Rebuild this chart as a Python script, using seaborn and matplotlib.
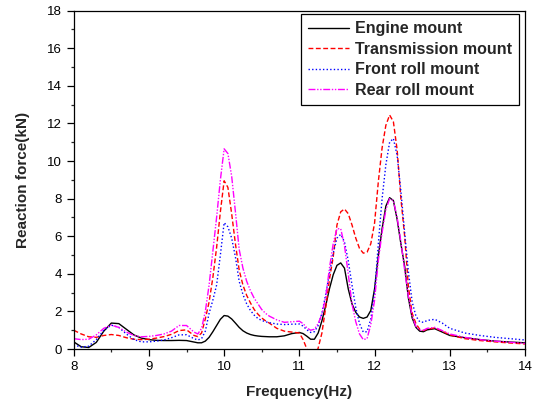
import numpy as np
import pandas as pd
import matplotlib
matplotlib.use("Agg")
import matplotlib.pyplot as plt
from matplotlib.ticker import MultipleLocator
import seaborn as sns

# ---------------- data ----------------
freq = [8.0, 8.1, 8.2, 8.3, 8.4, 8.5, 8.6, 8.7, 8.8, 8.9, 9.0, 9.1, 9.2, 9.3, 9.4, 9.5, 9.6,
        9.65, 9.7, 9.75, 9.8, 9.85, 9.9, 9.95, 10.0, 10.05, 10.1, 10.15, 10.2, 10.25, 10.3,
        10.35, 10.4, 10.45, 10.5, 10.55, 10.6,
        10.7, 10.8, 10.9, 11.0, 11.05,
        11.1, 11.15, 11.2, 11.25, 11.3, 11.35, 11.4, 11.45, 11.5, 11.55, 11.6, 11.65, 11.7,
        11.75, 11.8, 11.85, 11.9, 11.95, 12.0, 12.05, 12.1, 12.15, 12.2, 12.25, 12.3, 12.35,
        12.4, 12.45, 12.5, 12.55, 12.6, 12.65, 12.7,
        12.8, 12.9, 13.0, 13.2, 13.4, 13.6, 13.8, 14.0]

engine = [0.38, 0.12, 0.08, 0.35, 0.95, 1.38, 1.35, 1.05, 0.75, 0.58, 0.50, 0.46, 0.45, 0.45, 0.46, 0.45, 0.37,
          0.33, 0.33, 0.42, 0.62, 0.92, 1.25, 1.58, 1.78, 1.75, 1.60, 1.38, 1.15, 0.97, 0.85,
          0.77, 0.72, 0.69, 0.67, 0.66, 0.65,
          0.65, 0.70, 0.82, 0.88, 0.82,
          0.68, 0.52, 0.52, 0.85, 1.50, 2.30, 3.20, 3.95, 4.45, 4.58, 4.30, 3.20, 2.40,
          1.95, 1.70, 1.63, 1.70, 2.05, 3.20, 4.95, 6.40, 7.60, 8.05, 7.90, 6.90, 5.60,
          4.40, 2.70, 1.65, 1.15, 0.95, 0.92, 1.02,
          1.08, 0.90, 0.72, 0.60, 0.50, 0.42, 0.37, 0.33]

transmission = [1.00, 0.80, 0.65, 0.62, 0.72, 0.77, 0.72, 0.60, 0.52, 0.50, 0.52, 0.58, 0.66, 0.78, 0.98, 1.02, 0.72,
                0.66, 0.85, 1.60, 2.50, 3.80, 5.40, 7.30, 8.95, 8.60, 7.20, 5.60, 4.20, 3.40, 2.85,
                2.45, 2.10, 1.85, 1.65, 1.50, 1.38,
                1.10, 0.95, 0.90, 0.85, 0.50,
                0.00, -0.45, -0.55, 0.05, 0.85, 2.20, 3.70, 4.90, 6.60, 7.30, 7.45, 7.20, 6.60,
                5.90, 5.35, 5.10, 5.15, 5.60, 6.70, 8.90, 10.70, 11.90, 12.45, 12.10, 10.60, 8.00,
                6.00, 3.30, 1.90, 1.35, 1.05, 0.98, 1.05,
                1.12, 0.95, 0.75, 0.55, 0.45, 0.38, 0.32, 0.27]

front_roll = [0.22, 0.10, 0.15, 0.50, 1.00, 1.27, 1.15, 0.80, 0.50, 0.38, 0.38, 0.42, 0.48, 0.60, 0.75, 0.76, 0.55,
              0.48, 0.55, 0.95, 1.90, 2.60, 3.40, 5.00, 6.72, 6.50, 5.90, 4.90, 3.60, 2.90, 2.40,
              2.05, 1.80, 1.62, 1.52, 1.45, 1.40,
              1.33, 1.30, 1.32, 1.33, 1.22,
              1.02, 0.88, 0.92, 1.25, 1.90, 2.90, 4.00, 5.10, 5.90, 6.10, 5.70, 4.70, 3.40,
              2.20, 1.35, 0.90, 0.92, 1.60, 3.00, 5.60, 8.00, 9.80, 11.00, 11.20, 10.30, 8.40,
              6.20, 4.10, 2.50, 1.75, 1.45, 1.42, 1.52,
              1.58, 1.38, 1.10, 0.85, 0.72, 0.62, 0.55, 0.48]

rear_roll = [0.55, 0.50, 0.52, 0.75, 1.10, 1.27, 1.15, 0.90, 0.72, 0.65, 0.67, 0.72, 0.80, 0.95, 1.25, 1.25, 0.90,
             0.80, 1.10, 2.00, 3.40, 5.20, 7.00, 9.00, 10.65, 10.40, 9.20, 7.30, 5.30, 4.30, 3.60,
             3.10, 2.70, 2.40, 2.10, 1.90, 1.75,
             1.55, 1.42, 1.45, 1.48, 1.35,
             1.12, 1.00, 1.05, 1.35, 1.85, 2.75, 4.30, 5.60, 6.40, 6.40, 5.50, 4.00, 2.40,
             1.45, 0.80, 0.50, 0.55, 1.30, 2.60, 4.70, 6.20, 7.40, 8.00, 7.90, 7.00, 5.70,
             4.20, 2.80, 1.75, 1.20, 1.00, 1.00, 1.10,
             1.15, 0.98, 0.80, 0.62, 0.50, 0.42, 0.36, 0.30]

series_names = ["Engine mount", "Transmission mount", "Front roll mount", "Rear roll mount"]
x_ticks = [8, 9, 10, 11, 12, 13, 14]
y_ticks = [0, 2, 4, 6, 8, 10, 12, 14, 16, 18]

# ---------------- build long table ----------------
frames = []
for name, vals in zip(series_names, [engine, transmission, front_roll, rear_roll]):
    frames.append(pd.DataFrame({"freq": freq, "force": vals, "series": name}))
df = pd.concat(frames, ignore_index=True)

# ---------------- style ----------------
sns.set_theme(style="ticks")
plt.rcParams["font.family"] = ["Liberation Sans", "DejaVu Sans"]
plt.rcParams["axes.linewidth"] = 0.9
plt.rcParams["xtick.direction"] = "out"
plt.rcParams["ytick.direction"] = "out"

palette = {"Engine mount": "#000000", "Transmission mount": "#ff0000",
           "Front roll mount": "#0000ff", "Rear roll mount": "#ff00ff"}
dashes = {"Engine mount": "", "Transmission mount": (3.5, 1.8),
          "Front roll mount": (1, 1.6), "Rear roll mount": (5, 1.2, 1, 1.2, 1, 1.2)}

fig = plt.figure(figsize=(5.37, 4.05), dpi=100)
ax = fig.add_axes([73.7 / 537, 56 / 405, 451.3 / 537, 338.3 / 405])

sns.lineplot(data=df, x="freq", y="force", hue="series", style="series",
             hue_order=series_names, style_order=series_names,
             palette=palette, dashes=dashes, estimator=None, linewidth=1.0,
             ax=ax)

ax.set_xlim(8, 14)
ax.set_ylim(0, 18)
ax.set_xticks(x_ticks)
ax.set_yticks(y_ticks)
ax.xaxis.set_minor_locator(MultipleLocator(0.5))
ax.yaxis.set_minor_locator(MultipleLocator(1))
ax.tick_params(axis="both", which="major", length=5, width=0.9, labelsize=9.5, colors="black",
               top=False, right=False)
ax.tick_params(axis="both", which="minor", length=2.5, width=0.9, top=False, right=False)
for s in ax.spines.values():
    s.set_visible(True)
    s.set_color("black")

ax.set_xlabel("Frequency(Hz)", fontsize=11, fontweight="bold", labelpad=9)
ax.set_ylabel("Reaction force(kN)", fontsize=11, fontweight="bold", labelpad=12)

handles, labels = ax.get_legend_handles_labels()
leg = ax.legend(handles, labels, loc="upper right", bbox_to_anchor=(0.987, 0.990),
                borderaxespad=0, frameon=True, fancybox=False, edgecolor="black",
                framealpha=1, prop={"weight": "bold", "size": 11.5},
                handlelength=2.6, handletextpad=0.35, labelspacing=0.34, borderpad=0.45)
leg.get_frame().set_linewidth(0.9)

fig.savefig("out.png", dpi=100)
